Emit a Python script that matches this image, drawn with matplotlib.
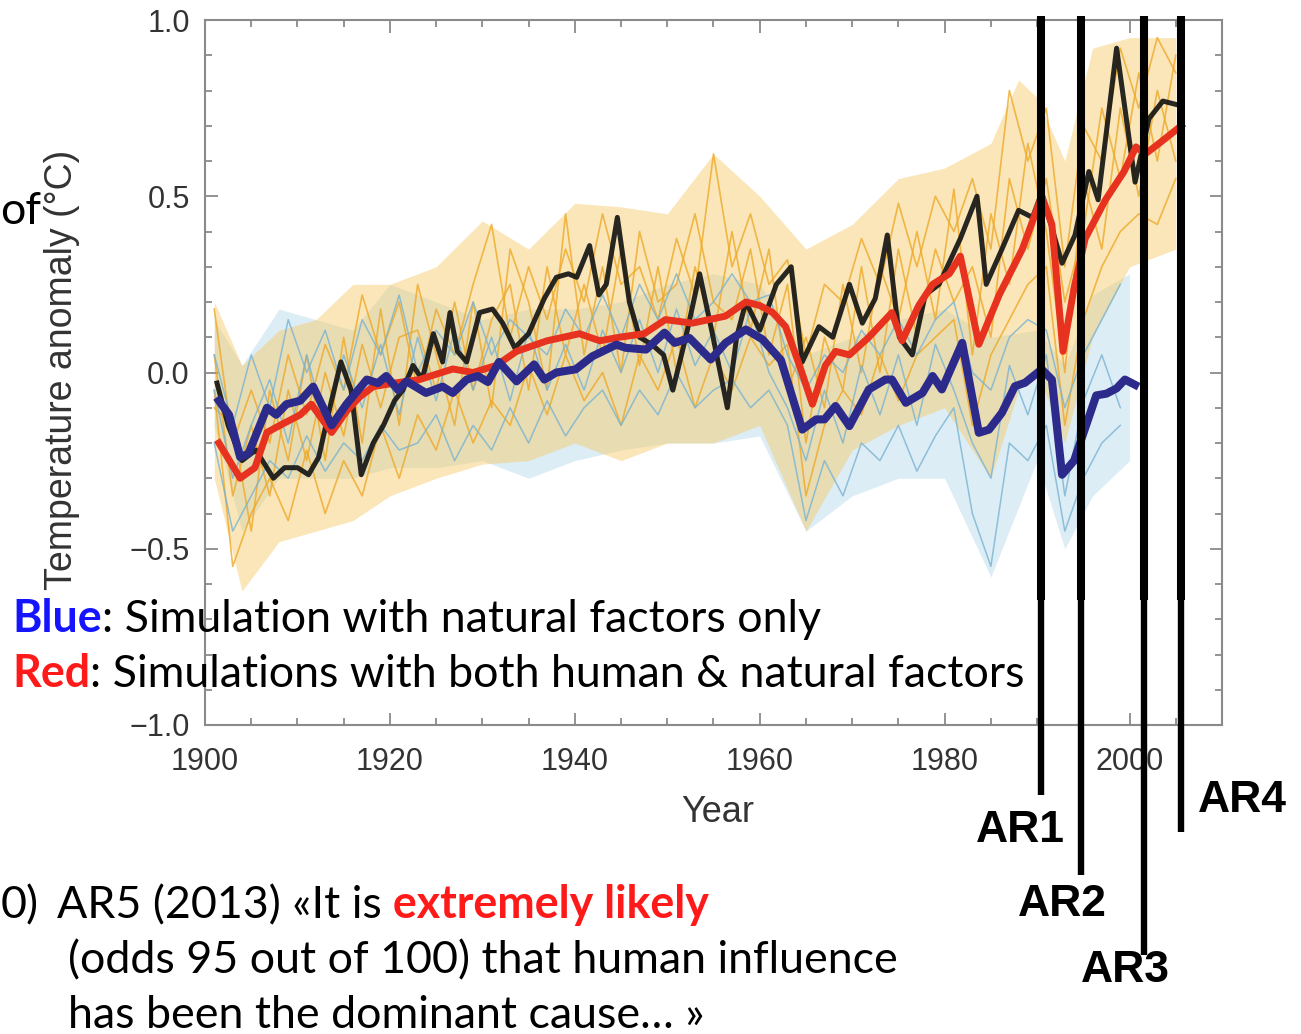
import matplotlib
matplotlib.use("Agg")
import matplotlib.pyplot as plt
from matplotlib.ticker import MultipleLocator
from matplotlib.transforms import blended_transform_factory

W, H = 1301, 1034

# observations (black)
obs_years = [1901.3, 1902.5, 1904.0, 1905.5, 1907.4, 1908.6, 1910.0, 1911.2, 1912.3, 1913.5,
             1914.7, 1915.8, 1916.9, 1918.2, 1919.3, 1920.5, 1921.4, 1922.5, 1923.5, 1924.7,
             1925.7, 1926.5, 1927.3, 1928.3, 1929.7, 1931.1, 1932.2, 1933.5, 1935.0, 1936.7,
             1938.0, 1939.3, 1940.2, 1941.6, 1942.6, 1943.4, 1944.6, 1945.9, 1947.0, 1948.3,
             1949.6, 1950.6, 1952.0, 1953.5, 1954.8, 1956.5, 1957.5, 1958.5, 1960.0, 1961.8,
             1963.4, 1964.6, 1966.4, 1967.9, 1969.7, 1971.1, 1972.5, 1973.8, 1975.1, 1976.5,
             1977.9, 1979.4, 1981.7, 1983.5, 1984.5, 1986.2, 1988.0, 1989.5, 1990.5, 1992.7,
             1994.1, 1995.6, 1996.6, 1998.6, 2000.6, 2002.1, 2003.6, 2005.1]
obs_temp = [-0.03, -0.15, -0.25, -0.22, -0.30, -0.27, -0.27, -0.29, -0.24, -0.10,
            0.03, -0.05, -0.29, -0.20, -0.15, -0.08, -0.05, 0.02, -0.02, 0.11,
            0.03, 0.17, 0.06, 0.03, 0.17, 0.18, 0.14, 0.07, 0.11, 0.21,
            0.27, 0.28, 0.27, 0.36, 0.22, 0.25, 0.44, 0.20, 0.10, 0.08,
            0.05, -0.05, 0.10, 0.28, 0.12, -0.10, 0.10, 0.20, 0.12, 0.25,
            0.30, 0.03, 0.13, 0.10, 0.25, 0.14, 0.21, 0.39, 0.10, 0.05,
            0.22, 0.25, 0.38, 0.50, 0.25, 0.35, 0.46, 0.44, 0.51, 0.31,
            0.39, 0.57, 0.49, 0.92, 0.54, 0.72, 0.77, 0.76]

# all-forcing ensemble mean (red)
allf_years = [1901.5, 1903.8, 1905.4, 1906.7, 1908.1, 1910.3, 1911.5, 1913.7, 1915.3, 1916.7,
              1918.2, 1920.5, 1923.2, 1926.8, 1929.0, 1931.5, 1933.7, 1937.0, 1940.5, 1942.7,
              1944.8, 1947.5, 1949.8, 1952.7, 1956.3, 1958.5, 1960.0, 1961.4, 1962.8, 1964.3,
              1965.7, 1967.1, 1968.2, 1969.7, 1971.8, 1974.3, 1975.4, 1977.2, 1978.7, 1980.5,
              1981.7, 1983.7, 1985.9, 1988.4, 1990.5, 1991.6, 1992.8, 1994.0, 1995.2, 1997.4,
              1999.4, 2000.7, 2001.7, 2003.2, 2005.6]
allf_mean = [-0.20, -0.30, -0.27, -0.17, -0.15, -0.12, -0.09, -0.17, -0.11, -0.07,
             -0.04, -0.03, -0.02, 0.01, 0.00, 0.02, 0.06, 0.09, 0.11, 0.09,
             0.10, 0.11, 0.15, 0.14, 0.16, 0.20, 0.19, 0.17, 0.13, 0.02,
             -0.09, 0.02, 0.06, 0.05, 0.10, 0.17, 0.09, 0.19, 0.25, 0.28,
             0.33, 0.08, 0.22, 0.35, 0.50, 0.42, 0.06, 0.24, 0.38, 0.49,
             0.57, 0.64, 0.62, 0.65, 0.70]

# natural-only ensemble mean (blue)
nat_years = [1901.5, 1902.6, 1903.8, 1904.7, 1906.7, 1907.7, 1908.8, 1910.3, 1911.7, 1913.7,
             1915.3, 1917.5, 1918.7, 1919.6, 1920.9, 1921.8, 1923.9, 1925.7, 1926.8, 1928.3,
             1929.5, 1930.6, 1931.8, 1933.7, 1935.6, 1936.7, 1938.0, 1940.1, 1941.9, 1944.5,
             1945.5, 1947.7, 1949.7, 1950.8, 1952.4, 1954.7, 1956.3, 1958.5, 1960.3, 1962.3,
             1964.6, 1966.1, 1967.0, 1968.2, 1969.7, 1971.8, 1973.6, 1974.3, 1975.8, 1977.6,
             1978.7, 1979.7, 1981.9, 1983.7, 1984.8, 1986.2, 1987.6, 1988.7, 1990.5, 1991.6,
             1992.7, 1994.0, 1996.4, 1997.5, 1998.6, 1999.5, 2000.6]
nat_mean = [-0.08, -0.12, -0.24, -0.23, -0.10, -0.12, -0.09, -0.08, -0.04, -0.15,
            -0.09, -0.02, -0.03, -0.01, -0.05, -0.025, -0.058, -0.04, -0.058, -0.02,
            -0.01, -0.027, 0.03, -0.025, 0.023, -0.02, 0.0, 0.009, 0.046, 0.079,
            0.07, 0.065, 0.113, 0.084, 0.098, 0.037, 0.084, 0.122, 0.094, 0.035,
            -0.162, -0.133, -0.133, -0.095, -0.152, -0.048, -0.02, -0.02, -0.086, -0.058,
            -0.01, -0.048, 0.084, -0.171, -0.162, -0.114, -0.039, -0.029, 0.009, -0.02,
            -0.29, -0.25, -0.065, -0.06, -0.045, -0.02, -0.035]

# a few individual runs of each ensemble, two-year steps
allf_member_years = list(range(1901, 2006, 2))
allf_run_a = [0.18, -0.20, -0.05, -0.20, 0.05, -0.12, 0.08, -0.05, 0.22, 0.05,
              0.20, -0.05, 0.18, 0.05, 0.25, 0.42, 0.10, 0.30, 0.15, 0.35,
              0.20, 0.45, 0.25, 0.30, 0.15, 0.38, 0.22, 0.62, 0.30, 0.45,
              0.25, 0.32, 0.05, 0.25, 0.20, 0.38, 0.25, 0.48, 0.30, 0.50,
              0.40, 0.55, 0.35, 0.80, 0.60, 0.75, 0.30, 0.70, 0.60, 0.92,
              0.75, 0.95, 0.85]
allf_run_b = [-0.05, -0.55, -0.40, -0.30, -0.42, -0.22, -0.40, -0.25, -0.35, -0.15,
              -0.30, -0.12, -0.22, -0.05, -0.20, -0.08, -0.15, 0.02, -0.12, 0.05,
              -0.08, 0.00, -0.15, 0.05, -0.05, 0.10, -0.10, 0.05, -0.05, 0.10,
              0.02, 0.08, -0.35, -0.15, -0.05, -0.12, 0.05, -0.08, 0.05, 0.10,
              0.15, -0.15, 0.05, 0.15, 0.25, 0.30, -0.15, 0.15, 0.30, 0.40,
              0.45, 0.42, 0.55]
allf_run_c = [0.05, -0.35, -0.15, -0.35, -0.05, -0.25, 0.00, -0.18, 0.08, -0.10,
              0.10, 0.12, -0.05, 0.20, -0.05, 0.15, 0.25, -0.05, 0.30, 0.05,
              0.25, 0.05, 0.35, 0.02, 0.30, 0.00, 0.30, 0.10, 0.40, 0.12,
              0.35, -0.05, 0.10, -0.10, 0.25, 0.00, 0.30, 0.15, 0.40, 0.15,
              0.52, 0.05, 0.45, 0.25, 0.65, 0.40, 0.00, 0.55, 0.35, 0.75,
              0.50, 0.80, 0.60]
allf_run_d = [-0.10, -0.15, -0.45, -0.05, -0.25, 0.05, -0.25, 0.10, -0.20, 0.18,
              -0.15, 0.25, 0.05, -0.15, 0.20, -0.10, 0.35, 0.20, -0.05, 0.45,
              0.05, 0.30, 0.00, 0.40, 0.20, 0.25, 0.45, 0.20, 0.15, 0.35,
              0.05, 0.25, -0.20, 0.10, -0.05, 0.30, 0.00, 0.35, 0.10, 0.35,
              0.20, 0.30, 0.10, 0.55, 0.35, 0.55, 0.20, 0.40, 0.75, 0.55,
              0.85, 0.60, 0.90]

nat_member_years = list(range(1901, 2000, 2))
nat_run_e = [0.05, -0.15, 0.05, -0.10, 0.15, 0.00, 0.12, -0.05, 0.15, 0.05,
             0.22, 0.00, 0.12, 0.05, 0.20, 0.05, 0.15, 0.10, 0.05, 0.18,
             0.10, 0.22, 0.10, 0.25, 0.15, 0.28, 0.15, 0.20, 0.28, 0.20,
             0.22, 0.05, -0.05, 0.05, 0.00, 0.12, 0.05, 0.15, 0.05, 0.15,
             0.20, 0.00, -0.05, 0.10, 0.15, 0.12, -0.10, 0.05, 0.15, 0.25]
nat_run_f = [-0.20, -0.45, -0.35, -0.25, -0.30, -0.18, -0.28, -0.20, -0.25, -0.15,
             -0.22, -0.20, -0.12, -0.25, -0.15, -0.22, -0.10, -0.20, -0.08, -0.18,
             -0.10, -0.05, -0.15, -0.05, -0.12, 0.00, -0.10, -0.05, -0.02, -0.10,
             -0.05, -0.15, -0.42, -0.25, -0.35, -0.20, -0.25, -0.15, -0.28, -0.18,
             -0.10, -0.40, -0.55, -0.20, -0.25, -0.15, -0.45, -0.30, -0.20, -0.15]
nat_run_g = [-0.05, -0.30, -0.15, -0.02, -0.20, 0.05, -0.15, 0.05, -0.10, 0.08,
             -0.12, 0.10, -0.08, 0.12, -0.05, 0.10, -0.08, 0.12, -0.05, 0.08,
             -0.05, 0.12, 0.00, 0.15, 0.00, 0.18, 0.02, 0.12, 0.00, 0.18,
             0.00, -0.10, -0.25, -0.05, -0.20, 0.02, -0.12, 0.05, -0.15, 0.08,
             -0.05, -0.20, -0.30, 0.02, -0.12, 0.05, -0.35, -0.08, 0.05, -0.10]

# ensemble spread (outer envelope of all runs)
allf_env_years = [1901, 1904, 1908, 1912, 1916, 1920, 1925, 1930, 1935, 1940, 1945, 1950,
                  1955, 1960, 1965, 1970, 1975, 1980, 1985, 1988, 1990, 1993, 1996, 2000, 2005]
allf_hi = [0.20, 0.02, 0.12, 0.15, 0.25, 0.25, 0.30, 0.43, 0.35, 0.48, 0.47, 0.45,
           0.62, 0.50, 0.35, 0.42, 0.55, 0.58, 0.65, 0.83, 0.78, 0.60, 0.92, 0.95, 0.95]
allf_lo = [-0.30, -0.62, -0.48, -0.45, -0.42, -0.35, -0.30, -0.26, -0.25, -0.20, -0.25, -0.20,
           -0.20, -0.15, -0.45, -0.22, -0.15, -0.10, -0.30, -0.05, 0.00, -0.20, 0.10, 0.30, 0.35]
nat_env_years = [1901, 1904, 1908, 1912, 1916, 1920, 1925, 1930, 1935, 1940, 1945, 1950,
                 1955, 1960, 1965, 1970, 1975, 1980, 1985, 1990, 1993, 1996, 2000]
nat_hi = [0.15, 0.02, 0.18, 0.15, 0.12, 0.25, 0.20, 0.15, 0.18, 0.18, 0.20, 0.25,
          0.28, 0.25, 0.05, 0.10, 0.15, 0.18, 0.10, 0.12, 0.02, 0.22, 0.28]
nat_lo = [-0.15, -0.45, -0.30, -0.30, -0.30, -0.27, -0.27, -0.25, -0.30, -0.25, -0.22, -0.20,
          -0.20, -0.18, -0.45, -0.35, -0.30, -0.30, -0.58, -0.25, -0.50, -0.35, -0.25]

# IPCC report markers
ar_names = ["AR1", "AR2", "AR3", "AR4"]
ar_years = [1990.4, 1994.75, 2001.6, 2005.6]

x_ticks = [1900, 1920, 1940, 1960, 1980, 2000]
y_ticks = [-1.0, -0.5, 0.0, 0.5, 1.0]
y_tick_labels = ["\u22121.0", "\u22120.5", "0.0", "0.5", "1.0"]


def fx(px):
    return px / W


def fy(py):
    return 1 - py / H


fig = plt.figure(figsize=(W / 100, H / 100), dpi=100)
ax = fig.add_axes([fx(205), fy(725), (1222 - 205) / W, (725 - 20) / H])

ax.fill_between(nat_env_years, nat_lo, nat_hi, color="#b4d8ea", alpha=0.45, lw=0)
ax.fill_between(allf_env_years, allf_lo, allf_hi, color="#f6c862", alpha=0.45, lw=0)
for run in [allf_run_a, allf_run_b, allf_run_c, allf_run_d]:
    ax.plot(allf_member_years, run, color="#eea928", lw=1.2, alpha=0.8)
for run in [nat_run_e, nat_run_f, nat_run_g]:
    ax.plot(nat_member_years, run, color="#78b3d3", lw=1.1, alpha=0.8)

ax.plot(obs_years, obs_temp, color="#111111", lw=3.6, alpha=0.9)
ax.plot(allf_years, allf_mean, color="#e6321e", lw=5.0)
ax.plot(nat_years, nat_mean, color="#2c2b8c", lw=5.8)

ax.set_xlim(1900, 2010)
ax.set_ylim(-1, 1)
ax.set_xticks(x_ticks)
ax.set_yticks(y_ticks)
ax.set_yticklabels(y_tick_labels)
ax.xaxis.set_minor_locator(MultipleLocator(5))
ax.yaxis.set_minor_locator(MultipleLocator(0.1))
ax.tick_params(which="both", direction="in", top=True, right=True, color="#8a8a8a", width=1.3)
ax.tick_params(which="major", length=9, labelsize=22, labelcolor="#333333")
ax.tick_params(which="minor", length=5)
ax.tick_params(axis="x", pad=16)
ax.tick_params(axis="y", pad=11)
for lab in ax.get_xticklabels() + ax.get_yticklabels():
    lab.set_family("Liberation Sans")
for sp in ax.spines.values():
    sp.set_color("#8a8a8a")
    sp.set_linewidth(1.5)

fig.text(fx(62), fy(370), "Temperature anomaly (\u00b0C)", rotation=90, ha="center", va="center",
         fontsize=27, color="#333333", family="Liberation Sans")
fig.text(fx(718), fy(812), "Year", ha="center", va="center", fontsize=26, color="#333333",
         family="Liberation Sans")

# vertical report lines, placed on the year axis
trans = blended_transform_factory(ax.transData, fig.transFigure)
ar_bottoms = [795, 875, 955, 832]
for yr, bot in zip(ar_years, ar_bottoms):
    ax.plot([yr, yr], [fy(16), fy(600)], transform=trans, color="black", lw=5.8,
            solid_capstyle="butt", clip_on=False, zorder=10)
    ax.plot([yr, yr], [fy(600), fy(bot)], transform=trans, color="black", lw=4.6,
            solid_capstyle="butt", clip_on=False, zorder=10)

ar_label_pos = [(1020, 830), (1062, 905), (1125, 970), (1242, 800)]
for name, (px, py) in zip(ar_names, ar_label_pos):
    fig.text(fx(px), fy(py), name, ha="center", va="center", fontsize=32, fontweight="bold",
             family="Liberation Sans", color="black")

# slide text
renderer = fig.canvas.get_renderer()
FAM = "Lato"


def runs_width(runs, size):
    total = 0
    for s, color, weight in runs:
        t = fig.text(0, 0, s, fontsize=size, fontweight=weight, family=FAM)
        total += t.get_window_extent(renderer).width
        t.remove()
    return total


def put_runs(x_px, y_px, runs, size):
    x = x_px
    for s, color, weight in runs:
        t = fig.text(x / W, fy(y_px), s, fontsize=size, color=color, fontweight=weight,
                     family=FAM, va="baseline", ha="left")
        x = t.get_window_extent(renderer).x1


red_line = [("Red", "#ff1a1a", "bold"), (": Simulations with both human & natural factors", "black", "normal")]
base = 30
size = base * (1025 - 12) / runs_width(red_line, base)

put_runs(12, 632, [("Blue", "#1414ff", "bold"), (": Simulation with natural factors only", "black", "normal")], size)
put_runs(12, 687, red_line, size)
put_runs(57, 918, [("AR5 (2013) \u00abIt is", "black", "normal"), (" extremely likely", "#ff1a1a", "bold")], size)
put_runs(68, 973, [("(odds 95 out of 100) that human influence", "black", "normal")], size)
put_runs(68, 1028, [("has been the dominant cause\u2026 \u00bb", "black", "normal")], size)
fig.text(fx(1), fy(918), "0)", fontsize=size, family=FAM, ha="left", va="baseline")
fig.text(fx(0), fy(224), "of", fontsize=size, family=FAM, ha="left", va="baseline")

fig.savefig("out.png", dpi=100)
